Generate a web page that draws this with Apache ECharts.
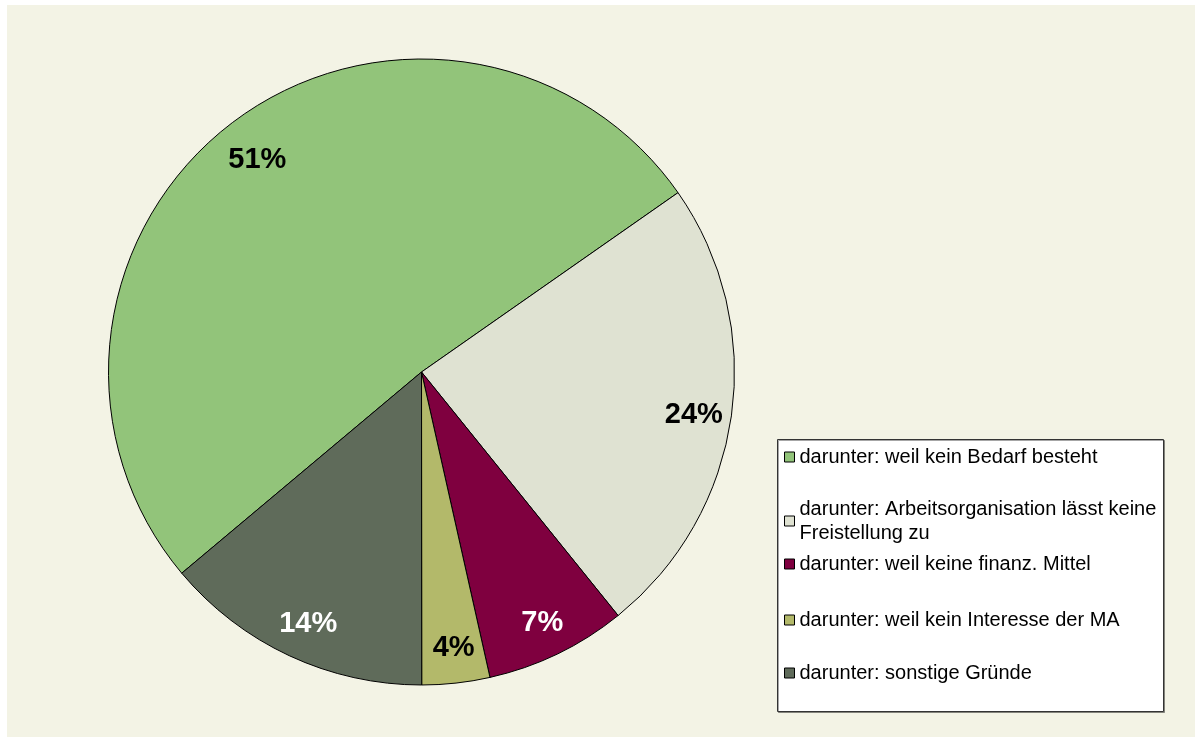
<!DOCTYPE html>
<html>
<head>
<meta charset="utf-8">
<script src="https://cdn.jsdelivr.net/npm/echarts@6/dist/echarts.min.js"></script>
<style>
  html, body { margin: 0; padding: 0; background: #fff; }
  #chart { width: 1195px; height: 737px; }
</style>
</head>
<body>
<div id="chart"></div>
<script>
  // Gruende fuer keine Weiterbildung (Anteile in %)
  const categories = [
    'darunter: weil kein Bedarf besteht',
    'darunter: Arbeitsorganisation lässt keine Freistellung zu',
    'darunter: weil keine finanz. Mittel',
    'darunter: weil kein Interesse der MA',
    'darunter: sonstige Gründe'
  ];
  const shares = [51.4, 23.9, 7.3, 3.5, 13.9];

  const sliceColors = ['#92c47a', '#dfe2d2', '#7f003f', '#b3b96a', '#5f6b5a'];
  const labelColors = ['#000', '#000', '#fff', '#000', '#fff'];
  const legendTops = [445, 499, 552, 608, 661];

  const chart = echarts.init(document.getElementById('chart'));
  const center = [421.5, 372];

  const option = {
    backgroundColor: '#fff',
    animation: false,
    color: sliceColors,
    graphic: [
      {
        type: 'rect', z: 0, silent: true,
        shape: { x: 7, y: 5, width: 1188, height: 732 },
        style: { fill: '#f3f3e5' }
      },
      {
        type: 'rect', z: 1, silent: true,
        shape: { x: 777.5, y: 439.5, width: 386, height: 272 },
        style: { fill: '#fff', stroke: '#333', lineWidth: 1,
                 shadowColor: 'rgba(0,0,0,0.35)', shadowOffsetX: 1, shadowOffsetY: 1 }
      }
    ],
    legend: categories.map((name, i) => ({
      data: [name],
      orient: 'vertical',
      left: 784,
      top: legendTops[i],
      padding: 0,
      itemWidth: 10,
      itemHeight: 10,
      icon: 'rect',
      itemStyle: { borderColor: '#000', borderWidth: 1 },
      formatter: n => n.replace('keine Freistellung', 'keine\nFreistellung'),
      textStyle: {
        fontFamily: 'Liberation Sans, Arial, sans-serif',
        fontSize: 20,
        color: '#000',
        lineHeight: 24,
        padding: i === 1 ? [0, 0, -24, 0] : 0
      }
    })),
    series: [
      {
        type: 'pie',
        center: center,
        radius: [0, 313],
        startAngle: 220,
        clockwise: true,
        silent: true,
        label: { show: false },
        labelLine: { show: false },
        itemStyle: { borderColor: '#000', borderWidth: 1 },
        emphasis: { disabled: true },
        data: categories.map((name, i) => ({ name: name, value: shares[i] }))
      },
      {
        // transparent ring that only carries the percent labels
        type: 'pie',
        center: center,
        radius: [227, 313],
        startAngle: 220,
        clockwise: true,
        silent: true,
        labelLine: { show: false },
        emphasis: { disabled: true },
        itemStyle: { color: 'rgba(0,0,0,0)', borderWidth: 0 },
        label: {
          show: true,
          position: 'inside',
          offset: [2, 5],
          fontFamily: 'Liberation Sans, Arial, sans-serif',
          fontSize: 29,
          fontWeight: 'bold',
          formatter: p => Math.round(p.percent) + '%'
        },
        data: categories.map((name, i) => ({
          name: name,
          value: shares[i],
          label: { color: labelColors[i] }
        }))
      }
    ]
  };

  chart.setOption(option);
  window.addEventListener('resize', () => chart.resize());
</script>
</body>
</html>
